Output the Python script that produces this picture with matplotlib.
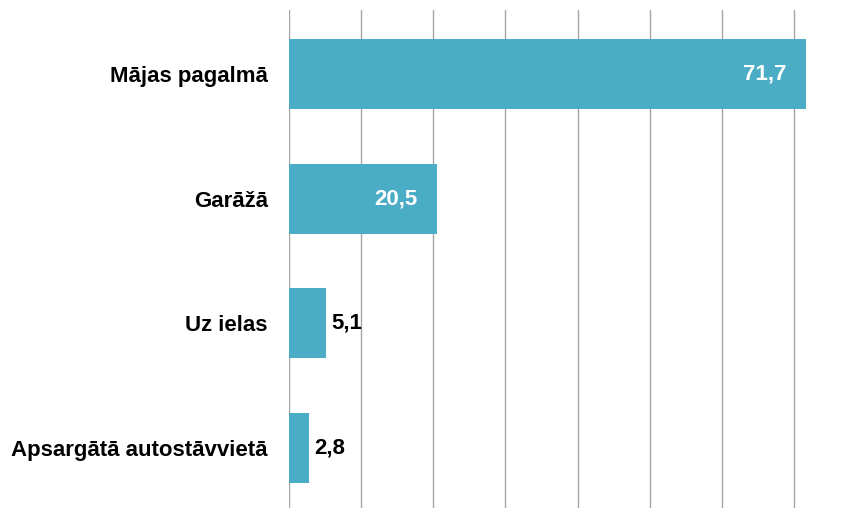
import matplotlib
matplotlib.use("Agg")
import matplotlib.pyplot as plt

categories = ["Mājas pagalmā", "Garāžā", "Uz ielas", "Apsargātā autostāvvietā"]
values = [71.7, 20.5, 5.1, 2.8]
value_labels = ["71,7", "20,5", "5,1", "2,8"]
grid_ticks = [0, 10, 20, 30, 40, 50, 60, 70]

plt.rcParams['font.family'] = ['Liberation Sans Narrow', 'Liberation Sans', 'DejaVu Sans']

fig = plt.figure(figsize=(8.57, 5.08), dpi=100)
ax = fig.add_axes([0.337, 0.0, 0.657, 0.980])

bar_color = "#4BACC6"
ypos = list(range(len(categories)))
ax.barh(ypos, values, height=0.56, color=bar_color, zorder=3)

ax.set_xlim(0, 78)
ax.set_ylim(3.48, -0.51)
ax.set_xticks(grid_ticks)
ax.xaxis.grid(True, color="#A6A6A6", linewidth=1.0, zorder=0)
ax.tick_params(axis='x', length=0, labelbottom=False)
ax.tick_params(axis='y', length=0, pad=15)
ax.set_yticks(ypos)
ax.set_yticklabels(categories, fontsize=16, fontweight='bold', color='black')
for s in ax.spines.values():
    s.set_visible(False)

for y, v, lab in zip(ypos, values, value_labels):
    if v > 15:
        ax.annotate(lab, (v, y), xytext=(-14, 0), textcoords='offset points',
                    ha='right', va='center', color='white', fontsize=16, fontweight='bold', zorder=4)
    else:
        ax.annotate(lab, (v, y), xytext=(4, 0), textcoords='offset points',
                    ha='left', va='center', color='black', fontsize=16, fontweight='bold', zorder=4)

fig.savefig("out.png", dpi=100)
